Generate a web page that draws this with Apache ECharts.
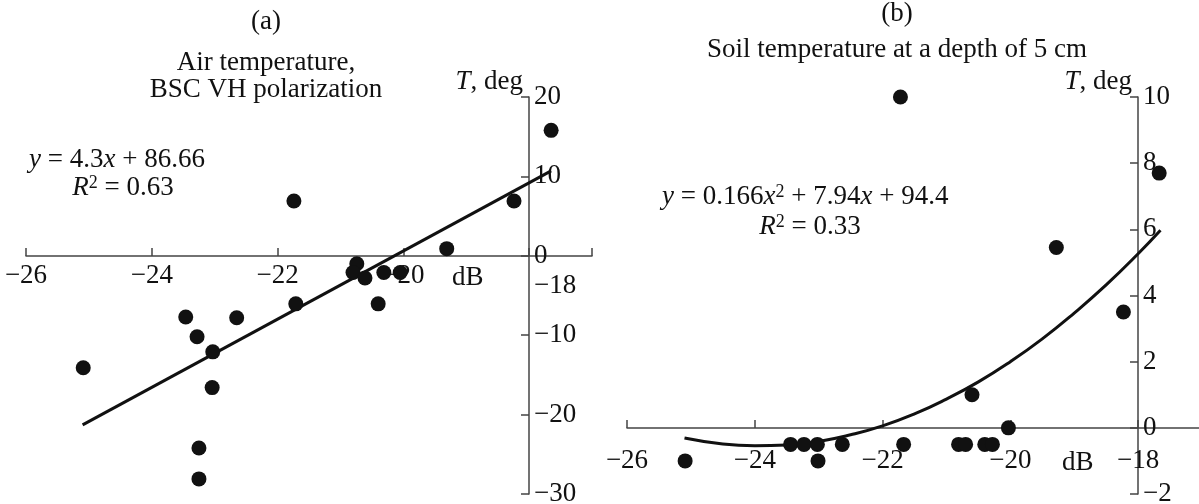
<!DOCTYPE html>
<html>
<head>
<meta charset="utf-8">
<script src="https://cdn.jsdelivr.net/npm/echarts@6/dist/echarts.min.js"></script>
<style>
  html, body { margin: 0; padding: 0; background: #fff; }
  #chart { width: 1199px; height: 504px; }
</style>
</head>
<body>
<div id="chart"></div>
<script>
const FONT = '"Liberation Serif", "DejaVu Serif", serif';
const MINUS = '\u2212';
const INK = '#111';
const AXIS = '#444';
const FS = 27;

// (a) air temperature vs BSC VH, x in dB, y in deg
const airX = [-25.09, -23.25, -23.25, -23.46, -23.28, -22.65, -23.03, -23.04, -21.71, -21.74,
  -20.40, -20.74, -20.80, -20.61, -20.31, -20.05, -19.31, -18.24, -17.65];
const airY = [-14.1, -24.2, -28.1, -7.7, -10.2, -7.8, -12.1, -16.6, -6.05, 6.9,
  -6.05, -1.0, -2.1, -2.8, -2.1, -2.1, 0.9, 6.9, 15.8];
// ends of the linear trend line
const airFitX = [-25.1, -17.65];
const airFitY = [-21.3, 10.7];

// (b) soil temperature at 5 cm
const soilX = [-21.72, -17.67, -19.28, -18.23, -20.60, -20.03, -23.44, -23.23, -23.02, -22.63,
  -21.67, -20.81, -20.70, -20.40, -20.28, -25.09, -23.01];
const soilY = [10.0, 7.7, 5.45, 3.5, 1.0, 0.0, -0.5, -0.5, -0.5, -0.5,
  -0.5, -0.5, -0.5, -0.5, -0.5, -1.0, -1.0];
// points along the quadratic trend curve
const soilFitX = [-25.1, -24.5, -24, -23.5, -23, -22.5, -22, -21.5, -21, -20.5, -20, -19.5, -19, -18.5, -18, -17.65];
const soilFitY = [-0.31, -0.49, -0.54, -0.52, -0.41, -0.21, 0.06, 0.42, 0.87, 1.39, 2.0, 2.69, 3.47, 4.32, 5.26, 5.97];

// axis ranges and steps
const xRange = [-26, -17];
const xStep = 2;
const airRange = [-30, 20];
const airStep = 10;
const soilRange = [-2, 10];
const soilStep = 2;

const pairs = (xs, ys) => xs.map((x, i) => [x, ys[i]]);
const num = (v) => (v < 0 ? MINUS + Math.abs(v) : String(v));

const textStyle = { fontFamily: FONT, fontSize: FS, color: INK };
const richBits = {
  i: { fontFamily: FONT, fontSize: FS, fontStyle: 'italic', color: INK },
  n: { fontFamily: FONT, fontSize: FS, color: INK },
  sup: { fontFamily: FONT, fontSize: 18, color: INK, verticalAlign: 'top' },
  shift: { fontFamily: FONT, fontSize: FS, color: INK, padding: [10, 0, 0, 52] },
};

// x axis sits on the y = 0 line of its grid, moved there with offset
function xAxisFor(gridIndex, margin, lift, shiftLast) {
  return {
    type: 'value',
    gridIndex: gridIndex,
    position: 'bottom',
    offset: -lift,
    min: xRange[0],
    max: xRange[1],
    interval: xStep,
    name: 'dB',
    nameLocation: 'end',
    nameGap: -140,
    nameMoveOverlap: false,
    nameTextStyle: Object.assign({}, textStyle, { verticalAlign: 'top', padding: [margin + 2, 0, 0, 0] }),
    axisLine: { onZero: false, lineStyle: { color: AXIS, width: 1.5 } },
    axisTick: { inside: true, length: 8, lineStyle: { color: AXIS, width: 1.5 } },
    splitLine: { show: false },
    axisLabel: Object.assign({}, textStyle, {
      margin: margin,
      hideOverlap: false,
      rich: richBits,
      formatter: (v) => {
        if (v === xRange[1]) return '';
        if (v === -18 && shiftLast) return '{shift|' + num(v) + '}';
        return num(v);
      },
    }),
  };
}

function yAxisFor(gridIndex, range, step, offset) {
  return {
    type: 'value',
    gridIndex: gridIndex,
    position: 'right',
    offset: offset,
    min: range[0],
    max: range[1],
    interval: step,
    name: '{i|T}{n|, deg}',
    nameLocation: 'end',
    nameGap: 2,
    nameMoveOverlap: false,
    nameTextStyle: { align: 'right', verticalAlign: 'bottom', padding: [0, 6, 0, 0], rich: richBits },
    axisLine: { show: true, onZero: false, lineStyle: { color: AXIS, width: 1.5 } },
    axisTick: { show: true, inside: true, length: 8, lineStyle: { color: AXIS, width: 1.5 } },
    splitLine: { show: false },
    axisLabel: Object.assign({}, textStyle, { margin: 5, hideOverlap: false, formatter: num }),
  };
}

function label(x, y, text, align) {
  return {
    type: 'text',
    x: x,
    y: y,
    silent: true,
    style: {
      text: text,
      font: FS + 'px ' + FONT,
      fill: INK,
      align: align || 'center',
      verticalAlign: 'middle',
      rich: richBits,
    },
  };
}

const chart = echarts.init(document.getElementById('chart'), null, { renderer: 'canvas' });

chart.setOption({
  backgroundColor: '#fff',
  animation: false,
  grid: [
    { left: 26, right: 607, top: 97, bottom: 10, outerBoundsMode: 'none', containLabel: false },
    { left: 627, right: -3, top: 97, bottom: 10, outerBoundsMode: 'none', containLabel: false },
  ],
  xAxis: [xAxisFor(0, 6, 238, true), xAxisFor(1, 19, 66, false)],
  yAxis: [yAxisFor(0, airRange, airStep, -63), yAxisFor(1, soilRange, soilStep, -64)],
  graphic: [
    label(266, 22, '(a)'),
    label(266, 63, 'Air temperature,'),
    label(266, 90, 'BSC VH polarization'),
    label(29, 160, '{i|y}{n| = 4.3}{i|x}{n| + 86.66}', 'left'),
    label(123, 188, '{i|R}{sup|2}{n| = 0.63}'),
    label(897, 14, '(b)'),
    label(897, 50, 'Soil temperature at a depth of 5 cm'),
    label(662, 197, '{i|y}{n| = 0.166}{i|x}{sup|2}{n| + 7.94}{i|x}{n| + 94.4}', 'left'),
    label(810, 227, '{i|R}{sup|2}{n| = 0.33}'),
  ],
  series: [
    {
      type: 'line',
      xAxisIndex: 0,
      yAxisIndex: 0,
      data: pairs(airFitX, airFitY),
      showSymbol: false,
      lineStyle: { color: INK, width: 3 },
      z: 3,
    },
    {
      type: 'scatter',
      xAxisIndex: 0,
      yAxisIndex: 0,
      data: pairs(airX, airY),
      symbolSize: 15,
      itemStyle: { color: INK, opacity: 1 },
      z: 4,
    },
    {
      type: 'line',
      xAxisIndex: 1,
      yAxisIndex: 1,
      data: pairs(soilFitX, soilFitY),
      showSymbol: false,
      smooth: true,
      lineStyle: { color: INK, width: 3 },
      z: 3,
    },
    {
      type: 'scatter',
      xAxisIndex: 1,
      yAxisIndex: 1,
      data: pairs(soilX, soilY),
      symbolSize: 15,
      itemStyle: { color: INK, opacity: 1 },
      z: 4,
    },
  ],
});
</script>
</body>
</html>
